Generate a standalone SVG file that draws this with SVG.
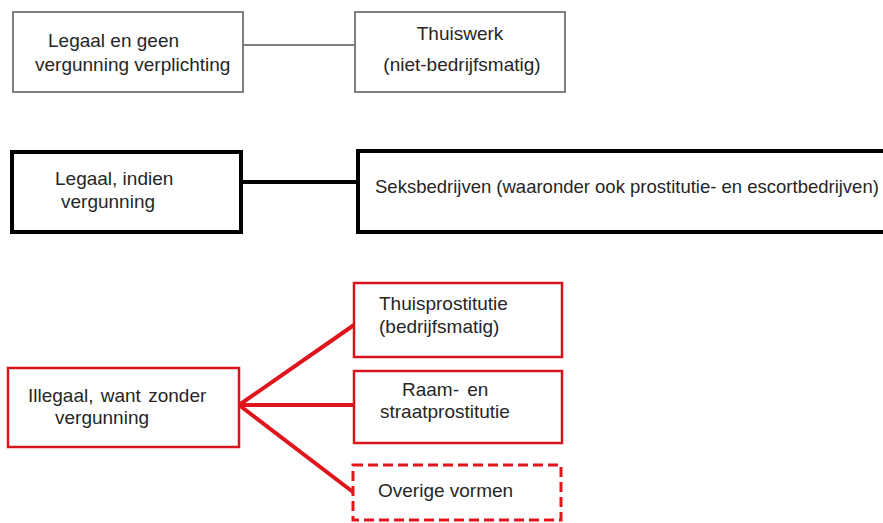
<svg xmlns="http://www.w3.org/2000/svg" width="883" height="523" viewBox="0 0 883 523">
<style>
text{font-family:"Liberation Sans",Arial,sans-serif;font-size:19px;fill:#262626}
.g{fill:#fff;stroke:#7f7f7f;stroke-width:2}
.k{fill:#fff;stroke:#000;stroke-width:4}
.r{fill:#fff;stroke:#d7141c;stroke-width:2.5}
.rd{fill:#fff;stroke:#e3141c;stroke-width:3;stroke-dasharray:10 5}
.cg{stroke:#7f7f7f;stroke-width:2;fill:none}
.ck{stroke:#000;stroke-width:4;fill:none}
.cr{stroke:#e0141c;stroke-width:4;fill:none}
</style>
<rect width="883" height="523" fill="#fff"/>
<g id="connectors">
<line class="cg" x1="243" y1="45" x2="355" y2="45"/>
<line class="ck" x1="241" y1="182" x2="358" y2="182"/>
<line class="cr" x1="239" y1="405" x2="354" y2="325"/>
<line class="cr" x1="239" y1="405" x2="354" y2="405"/>
<line class="cr" x1="239" y1="405" x2="353" y2="492"/>
</g>
<g id="legaal-geen">
<rect class="g" x="13" y="12" width="230" height="80"/>
<text x="48" y="47">Legaal en geen</text>
<text x="35" y="71">vergunning verplichting</text>
</g>
<g id="thuiswerk">
<rect class="g" x="355" y="12" width="210" height="80"/>
<text x="460" y="40" text-anchor="middle">Thuiswerk</text>
<text x="462" y="71" text-anchor="middle">(niet-bedrijfsmatig)</text>
</g>
<g id="legaal-indien">
<rect class="k" x="12" y="152" width="229" height="80"/>
<text x="55" y="185">Legaal, indien</text>
<text x="61" y="208">vergunning</text>
</g>
<g id="seksbedrijven">
<rect class="k" x="358" y="151" width="540" height="81"/>
<text x="375" y="193" style="font-size:18.5px">Seksbedrijven (waaronder ook prostitutie- en escortbedrijven)</text>
</g>
<g id="illegaal">
<rect class="r" x="8" y="368" width="231" height="79"/>
<text x="28" y="402" word-spacing="2">Illegaal, want zonder</text>
<text x="55" y="424">vergunning</text>
</g>
<g id="thuisprostitutie">
<rect class="r" x="354" y="283" width="208" height="74"/>
<text x="379" y="310">Thuisprostitutie</text>
<text x="379" y="333">(bedrijfsmatig)</text>
</g>
<g id="raam">
<rect class="r" x="354" y="371" width="208" height="72"/>
<text x="402" y="396" word-spacing="3">Raam- en</text>
<text x="380" y="418">straatprostitutie</text>
</g>
<g id="overige">
<rect class="rd" x="353" y="465" width="208" height="55"/>
<text x="378" y="497">Overige vormen</text>
</g>
</svg>
